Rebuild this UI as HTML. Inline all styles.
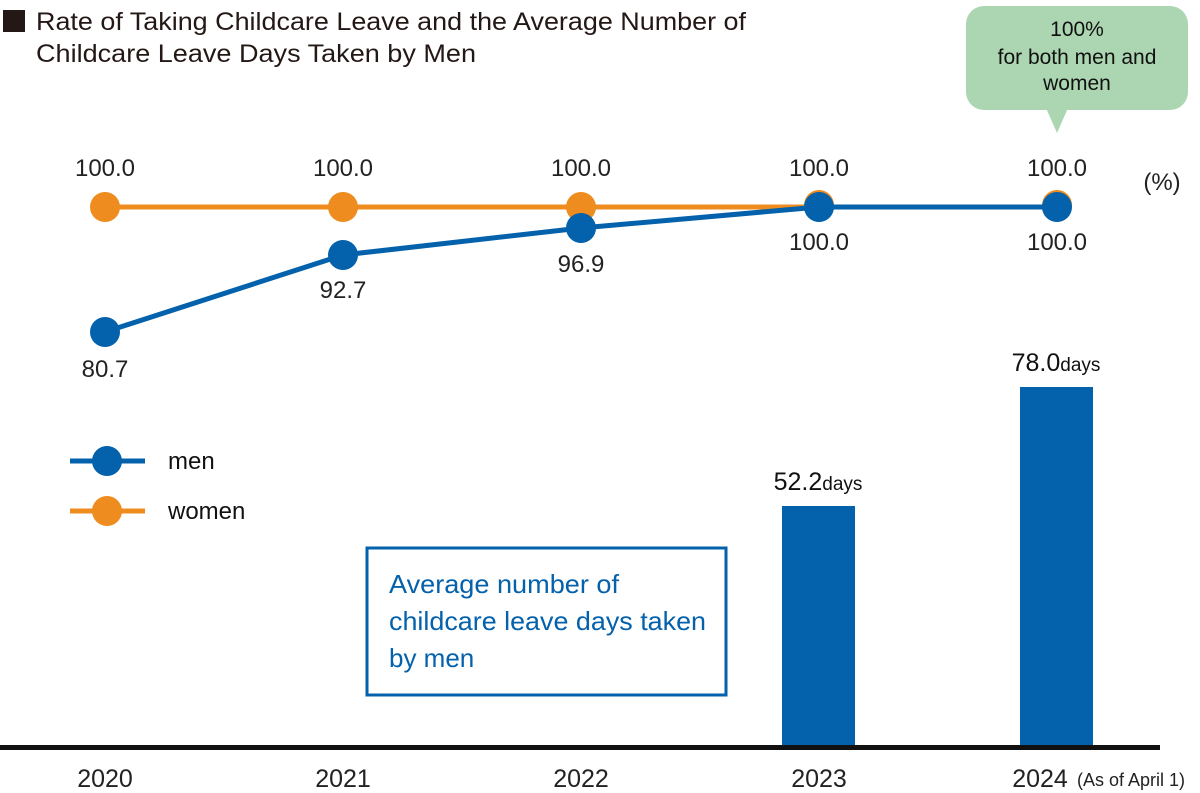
<!DOCTYPE html>
<html><head><style>body{margin:0;background:#fff}svg{display:block}text{font-family:"Liberation Sans",sans-serif}</style></head><body>
<svg width="1200" height="793" viewBox="0 0 1200 793">
<rect x="3" y="10" width="22" height="22" fill="#231815"/>
<text x="36" y="30" font-size="25" fill="#231815" textLength="710" lengthAdjust="spacingAndGlyphs">Rate of Taking Childcare Leave and the Average Number of</text>
<text x="36" y="62" font-size="25" fill="#231815" textLength="440" lengthAdjust="spacingAndGlyphs">Childcare Leave Days Taken by Men</text>
<rect x="966" y="6" width="222" height="104" rx="18" fill="#acd6b1"/>
<polygon points="1046,108 1068,108 1057,133" fill="#acd6b1"/>
<g font-size="21" fill="#111" text-anchor="middle">
<text x="1077" y="36">100%</text><text x="1077" y="64">for both men and</text><text x="1077" y="90">women</text></g>
<g font-size="24" fill="#222" text-anchor="middle">
<text x="105" y="176">100.0</text><text x="343" y="176">100.0</text><text x="581" y="176">100.0</text><text x="819" y="176">100.0</text><text x="1057" y="176">100.0</text>
<text x="105" y="377">80.7</text><text x="343" y="298">92.7</text><text x="581" y="272">96.9</text><text x="819" y="250">100.0</text><text x="1057" y="250">100.0</text>
<text x="1162" y="190">(%)</text></g>
<polyline points="105,207 1057,207" stroke="#ef8c1f" stroke-width="5" fill="none"/>
<g fill="#ef8c1f"><circle cx="105" cy="207" r="15"/><circle cx="343" cy="207" r="15"/><circle cx="581" cy="207" r="15"/><circle cx="819" cy="205" r="15"/><circle cx="1057" cy="205" r="15"/></g>
<polyline points="105,332 343,255 581,228 819,207 1057,207" stroke="#0461ab" stroke-width="5" fill="none"/>
<g fill="#0461ab"><circle cx="105" cy="332" r="15"/><circle cx="343" cy="255" r="15"/><circle cx="581" cy="228" r="15"/><circle cx="819" cy="207" r="15"/><circle cx="1057" cy="207" r="15"/></g>
<line x1="70" y1="461" x2="145" y2="461" stroke="#0461ab" stroke-width="5"/><circle cx="107" cy="461" r="15" fill="#0461ab"/>
<line x1="70" y1="511" x2="145" y2="511" stroke="#ef8c1f" stroke-width="5"/><circle cx="107" cy="511" r="15" fill="#ef8c1f"/>
<text x="168" y="469" font-size="24" fill="#111">men</text>
<text x="168" y="519" font-size="24" fill="#111">women</text>
<rect x="367" y="548" width="359" height="147" fill="none" stroke="#0461ab" stroke-width="3"/>
<g font-size="26" fill="#0461ab"><text x="389" y="593" textLength="230" lengthAdjust="spacingAndGlyphs">Average number of</text><text x="389" y="630" textLength="317" lengthAdjust="spacingAndGlyphs">childcare leave days taken</text><text x="389" y="667">by men</text></g>
<rect x="782" y="506" width="73" height="242" fill="#0461ab"/>
<rect x="1020" y="387" width="73" height="361" fill="#0461ab"/>
<text x="818" y="490" font-size="25" fill="#111" text-anchor="middle">52.2<tspan font-size="19">days</tspan></text>
<text x="1056" y="371" font-size="25" fill="#111" text-anchor="middle">78.0<tspan font-size="19">days</tspan></text>
<rect x="0" y="745" width="1160" height="5" fill="#111"/>
<g font-size="25" fill="#222" text-anchor="middle">
<text x="105" y="787">2020</text><text x="343" y="787">2021</text><text x="581" y="787">2022</text><text x="819" y="787">2023</text><text x="1040" y="787">2024</text></g>
<text x="1077" y="786" font-size="18" fill="#222">(As of April 1)</text>
</svg>
</body></html>
